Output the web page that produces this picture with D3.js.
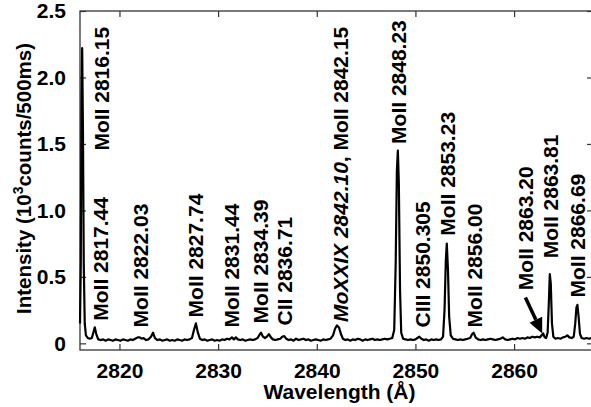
<!DOCTYPE html>
<html>
<head>
<meta charset="utf-8">
<script src="https://cdn.jsdelivr.net/npm/d3@7"></script>
<style>
  body { margin: 0; background: #fff; }
  svg { display: block; font-family: "Liberation Sans", Arial, sans-serif; font-weight: bold; }
</style>
</head>
<body>
<svg width="591" height="407"></svg>
<script>
// spectrum: [wavelength (A), intensity (10^3 counts/500ms)]
const spectrum = [
  [2816.00, 0.15], [2816.08, 0.60], [2816.15, 1.80], [2816.22, 2.22], [2816.30, 1.60],
  [2816.38, 0.60], [2816.48, 0.15], [2816.60, 0.06], [2816.80, 0.04], [2817.00, 0.035],
  [2817.20, 0.04], [2817.35, 0.08], [2817.50, 0.12], [2817.65, 0.07], [2817.85, 0.03],
  [2818.10, 0.025], [2818.35, 0.03], [2818.60, 0.02], [2818.85, 0.03], [2819.10, 0.025],
  [2819.35, 0.02], [2819.60, 0.03], [2819.85, 0.025], [2820.10, 0.02], [2820.35, 0.03],
  [2820.60, 0.025], [2820.85, 0.02], [2821.10, 0.03], [2821.35, 0.025], [2821.60, 0.035],
  [2821.85, 0.045], [2822.05, 0.045], [2822.25, 0.035], [2822.45, 0.04], [2822.70, 0.025],
  [2822.95, 0.03], [2823.20, 0.05], [2823.40, 0.08], [2823.60, 0.04], [2823.85, 0.025],
  [2824.10, 0.03], [2824.35, 0.02], [2824.60, 0.025], [2824.85, 0.03], [2825.10, 0.02],
  [2825.35, 0.025], [2825.60, 0.02], [2825.85, 0.03], [2826.10, 0.025], [2826.35, 0.02],
  [2826.60, 0.03], [2826.85, 0.025], [2827.10, 0.03], [2827.35, 0.04], [2827.55, 0.10],
  [2827.75, 0.15], [2827.95, 0.08], [2828.15, 0.035], [2828.40, 0.025], [2828.65, 0.03],
  [2828.90, 0.02], [2829.15, 0.025], [2829.40, 0.03], [2829.65, 0.02], [2829.90, 0.025],
  [2830.15, 0.02], [2830.40, 0.03], [2830.65, 0.025], [2830.90, 0.035], [2831.15, 0.03],
  [2831.40, 0.045], [2831.60, 0.03], [2831.80, 0.045], [2832.00, 0.03], [2832.25, 0.025],
  [2832.50, 0.03], [2832.75, 0.02], [2833.00, 0.025], [2833.25, 0.03], [2833.50, 0.025],
  [2833.75, 0.03], [2834.00, 0.04], [2834.20, 0.065], [2834.35, 0.08], [2834.55, 0.05],
  [2834.75, 0.04], [2834.95, 0.05], [2835.15, 0.07], [2835.35, 0.045], [2835.55, 0.03],
  [2835.80, 0.025], [2836.05, 0.03], [2836.30, 0.035], [2836.50, 0.05], [2836.70, 0.055],
  [2836.90, 0.035], [2837.15, 0.025], [2837.40, 0.03], [2837.65, 0.02], [2837.90, 0.035],
  [2838.15, 0.025], [2838.40, 0.03], [2838.65, 0.035], [2838.90, 0.025], [2839.15, 0.03],
  [2839.40, 0.02], [2839.65, 0.025], [2839.90, 0.03], [2840.15, 0.025], [2840.40, 0.02],
  [2840.65, 0.03], [2840.90, 0.025], [2841.15, 0.03], [2841.40, 0.035], [2841.65, 0.06],
  [2841.85, 0.11], [2842.05, 0.135], [2842.25, 0.12], [2842.45, 0.07], [2842.65, 0.035],
  [2842.90, 0.025], [2843.15, 0.03], [2843.40, 0.02], [2843.65, 0.03], [2843.90, 0.025],
  [2844.15, 0.035], [2844.40, 0.03], [2844.65, 0.02], [2844.90, 0.03], [2845.15, 0.025],
  [2845.40, 0.03], [2845.65, 0.035], [2845.90, 0.025], [2846.15, 0.03], [2846.40, 0.025],
  [2846.65, 0.03], [2846.90, 0.035], [2847.15, 0.03], [2847.40, 0.035], [2847.65, 0.04],
  [2847.85, 0.10], [2848.00, 0.60], [2848.12, 1.30], [2848.22, 1.45], [2848.32, 1.20],
  [2848.44, 0.40], [2848.56, 0.08], [2848.75, 0.035], [2849.00, 0.03], [2849.25, 0.025],
  [2849.50, 0.03], [2849.75, 0.025], [2850.00, 0.03], [2850.20, 0.04], [2850.40, 0.05],
  [2850.60, 0.035], [2850.85, 0.025], [2851.10, 0.03], [2851.35, 0.02], [2851.60, 0.03],
  [2851.85, 0.025], [2852.10, 0.03], [2852.35, 0.025], [2852.60, 0.03], [2852.80, 0.05],
  [2852.95, 0.25], [2853.08, 0.62], [2853.18, 0.75], [2853.30, 0.55], [2853.42, 0.20],
  [2853.58, 0.06], [2853.80, 0.035], [2854.05, 0.03], [2854.30, 0.025], [2854.55, 0.03],
  [2854.80, 0.025], [2855.05, 0.03], [2855.30, 0.035], [2855.55, 0.04], [2855.75, 0.07],
  [2855.90, 0.08], [2856.10, 0.045], [2856.35, 0.03], [2856.60, 0.025], [2856.85, 0.03],
  [2857.10, 0.025], [2857.35, 0.03], [2857.60, 0.035], [2857.85, 0.03], [2858.10, 0.025],
  [2858.35, 0.03], [2858.60, 0.035], [2858.85, 0.045], [2859.10, 0.03], [2859.35, 0.025],
  [2859.60, 0.03], [2859.85, 0.035], [2860.10, 0.03], [2860.35, 0.04], [2860.60, 0.035],
  [2860.85, 0.04], [2861.10, 0.035], [2861.35, 0.045], [2861.60, 0.04], [2861.85, 0.05],
  [2862.10, 0.045], [2862.35, 0.05], [2862.60, 0.045], [2862.80, 0.06], [2862.95, 0.075],
  [2863.10, 0.045], [2863.25, 0.04], [2863.40, 0.08], [2863.52, 0.30], [2863.62, 0.52],
  [2863.72, 0.45], [2863.84, 0.15], [2863.98, 0.05], [2864.20, 0.035], [2864.45, 0.04],
  [2864.70, 0.035], [2864.95, 0.045], [2865.20, 0.05], [2865.40, 0.06], [2865.60, 0.045],
  [2865.85, 0.04], [2866.05, 0.05], [2866.20, 0.15], [2866.32, 0.27], [2866.42, 0.29],
  [2866.54, 0.20], [2866.68, 0.07], [2866.85, 0.04], [2867.10, 0.035], [2867.35, 0.04],
  [2867.60, 0.035], [2867.85, 0.04], [2868.00, 0.035]
]

// line labels: italic part, plain part, and where the label foot sits (wavelength, intensity)
const labelItalic = ['', '', '', '', '', '', '', 'MoXXIX 2842.10', '', '', '', '', '', '', '']
const labelText = ['MoII 2816.15', 'MoII 2817.44', 'MoII 2822.03', 'MoII 2827.74', 'MoII 2831.44',
  'MoII 2834.39', 'CII 2836.71', ', MoII 2842.15', 'MoII 2848.23', 'CIII 2850.305',
  'MoII 2853.23', 'MoII 2856.00', 'MoII 2863.20', 'MoII 2863.81', 'MoII 2866.69']
const labelWl = [2818.13, 2818.03, 2822.08, 2827.75, 2831.4, 2834.34, 2836.77, 2842.44,
  2848.32, 2850.75, 2853.28, 2856.02, 2861.19, 2863.72, 2866.46]
const labelAt = [1.45, 0.17, 0.12, 0.195, 0.12, 0.15, 0.135, 0.16, 1.5, 0.12, 0.81, 0.12, 0.40, 0.64, 0.345]

// arrow to the weak MoII 2863.20 line
const arrowFrom = [2861.15, 0.345]
const arrowTo = [2862.85, 0.075]

const xTicks = [2820, 2830, 2840, 2850, 2860]
const yTicks = [0, 0.5, 1.0, 1.5, 2.0, 2.5]

const mLeft = 80, mTop = 11, mRight = 593, mBottom = 350

const svg = d3.select('svg')
const x = d3.scaleLinear().domain([2816, 2868]).range([mLeft, mRight])
const y = d3.scaleLinear().domain([-0.05, 2.5]).range([mBottom, mTop])

const fmt = d => d === 0 ? '0' : d3.format('.1f')(d)

// axes, ticks pointing in
svg.append('g').attr('transform', `translate(0,${mBottom})`)
    .call(d3.axisBottom(x).tickValues(xTicks).tickSizeInner(-6).tickSizeOuter(0).tickPadding(13).tickFormat(d3.format('d')))
svg.append('g').attr('transform', `translate(0,${mTop})`)
    .call(d3.axisTop(x).tickValues(xTicks).tickSizeInner(-6).tickSizeOuter(0).tickFormat(''))
svg.append('g').attr('transform', `translate(${mLeft},0)`)
    .call(d3.axisLeft(y).tickValues(yTicks).tickSizeInner(-6).tickSizeOuter(0).tickPadding(14).tickFormat(fmt))
svg.append('g').attr('transform', `translate(${mRight},0)`)
    .call(d3.axisRight(y).tickValues(yTicks).tickSizeInner(-6).tickSizeOuter(0).tickFormat(''))

svg.selectAll('.domain').remove()
svg.selectAll('.tick line').attr('stroke', '#333').attr('stroke-width', 1.2)
svg.selectAll('.tick text').attr('font-size', 21).attr('font-weight', 'bold')
    .attr('font-family', '"Liberation Sans", Arial, sans-serif').attr('fill', '#000')

svg.append('rect').attr('x', mLeft).attr('y', mTop)
    .attr('width', mRight - mLeft).attr('height', mBottom - mTop)
    .attr('fill', 'none').attr('stroke', '#333').attr('stroke-width', 1.3)

// spectrum
const line = d3.line().x(d => x(d[0])).y(d => y(d[1]))
svg.append('path').datum(spectrum)
    .attr('d', line).attr('fill', 'none').attr('stroke', '#000')
    .attr('stroke-width', 2.2).attr('stroke-linejoin', 'round')

// labels
labelText.forEach((t, i) => {
    const txt = svg.append('text')
        .attr('transform', `translate(${x(labelWl[i])},${y(labelAt[i])}) rotate(-90)`)
        .attr('dy', '0.36em').attr('font-size', 21)
    if (labelItalic[i]) txt.append('tspan').attr('font-style', 'italic').text(labelItalic[i])
    txt.append('tspan').text(t)
})

// arrow
const ax1 = x(arrowFrom[0]), ay1 = y(arrowFrom[1]), ax2 = x(arrowTo[0]), ay2 = y(arrowTo[1])
const ang = Math.atan2(ay2 - ay1, ax2 - ax1)
const headLen = 15, headW = 7
const bx = ax2 - headLen * Math.cos(ang), by = ay2 - headLen * Math.sin(ang)
svg.append('line').attr('x1', ax1).attr('y1', ay1).attr('x2', bx).attr('y2', by)
    .attr('stroke', '#000').attr('stroke-width', 3.5)
svg.append('path')
    .attr('d', `M${ax2},${ay2}L${bx + headW * Math.sin(ang)},${by - headW * Math.cos(ang)}L${bx - headW * Math.sin(ang)},${by + headW * Math.cos(ang)}Z`)
    .attr('fill', '#000')

// axis titles
svg.append('text').attr('x', (mLeft + mRight) / 2 + 3).attr('y', 399)
    .attr('text-anchor', 'middle').attr('font-size', 21).text('Wavelength (Å)')

const yt = svg.append('text')
    .attr('transform', `translate(31,${(mTop + mBottom) / 2 - 2}) rotate(-90)`)
    .attr('text-anchor', 'middle').attr('font-size', 20.5)
yt.append('tspan').text('Intensity (10')
yt.append('tspan').attr('font-size', 14).attr('dy', -8).text('3')
yt.append('tspan').attr('dy', 8).text('counts/500ms)')
</script>
</body>
</html>
